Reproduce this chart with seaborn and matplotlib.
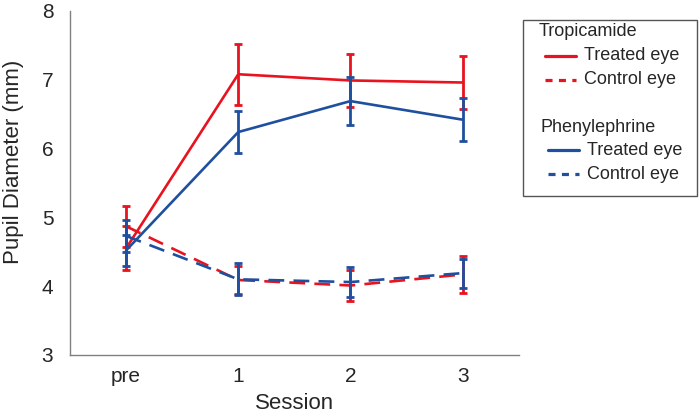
import numpy as np
import pandas as pd
import seaborn as sns
from matplotlib import pyplot as plt
from matplotlib.lines import Line2D
from matplotlib.patches import Rectangle

sessions = ['pre', '1', '2', '3']

# Tropicamide
trop_treated = [4.55, 7.08, 6.99, 6.96]
trop_treated_err = [0.32, 0.44, 0.39, 0.38]
trop_control = [4.87, 4.09, 4.01, 4.17]
trop_control_err = [0.30, 0.21, 0.23, 0.27]

# Phenylephrine
phen_treated = [4.52, 6.24, 6.69, 6.42]
phen_treated_err = [0.23, 0.31, 0.35, 0.31]
phen_control = [4.73, 4.10, 4.06, 4.19]
phen_control_err = [0.23, 0.23, 0.22, 0.21]

red = '#E8131F'
blue = '#1F4F9F'

sns.set_style('white')
plt.rcParams['font.family'] = ['Liberation Sans', 'DejaVu Sans']

fig = plt.figure(figsize=(7, 4.15), dpi=100)
ax = fig.add_axes([0.1, 0.1446, 0.641, 0.829])

series = [
	('Tropicamide', 'Treated eye', trop_treated, trop_treated_err, red, '-'),
	('Tropicamide', 'Control eye', trop_control, trop_control_err, red, '--'),
	('Phenylephrine', 'Treated eye', phen_treated, phen_treated_err, blue, '-'),
	('Phenylephrine', 'Control eye', phen_control, phen_control_err, blue, '--'),
]

xpos = np.arange(len(sessions))
for drug, eye, vals, errs, col, ls in series:
	df = pd.DataFrame({'x': xpos, 'y': vals})
	line_kw = dict(lw=1.9, color=col)
	if ls == '--':
		line_kw['dashes'] = (6.0, 3.5)
	sns.lineplot(data=df, x='x', y='y', ax=ax, legend=False, **line_kw)
	ax.errorbar(xpos, vals, yerr=errs, fmt='none', ecolor=col, elinewidth=2.0,
				capsize=2.9, capthick=2.0)

ax.set_xlim(-0.5, 3.5)
ax.set_ylim(3, 8)
ax.set_xticks(xpos)
ax.set_xticklabels(sessions)
ax.set_yticks([3, 4, 5, 6, 7, 8])
for s in ['top', 'right']:
	ax.spines[s].set_visible(False)
for s in ['left', 'bottom']:
	ax.spines[s].set_color('#808080')
	ax.spines[s].set_linewidth(1.0)
ax.tick_params(direction='in', length=4, width=1, color='#808080', labelsize=15)
ax.tick_params(axis='y', pad=12)
ax.tick_params(axis='x', pad=9)
ax.set_xlabel('Session', fontsize=16, labelpad=5)
ax.set_ylabel('Pupil Diameter (mm)', fontsize=16)
ax.yaxis.set_label_coords(-0.103, 0.56)

# legend box drawn in figure pixels
W, H = 700, 415
def fx(px):
	return px / W
def fy(py):
	return 1 - py / H

fig.patches.append(Rectangle((fx(523), fy(196)), fx(697) - fx(523), fy(20) - fy(196),
							 transform=fig.transFigure, fill=False, ec='#555555', lw=1.0))
entries = [
	(539, 32, 'Tropicamide', None, None),
	(545, 56, 'Treated eye', red, '-'),
	(545, 80, 'Control eye', red, '--'),
	(541, 127, 'Phenylephrine', None, None),
	(548, 150, 'Treated eye', blue, '-'),
	(548, 174, 'Control eye', blue, '--'),
]
for x0, y0, label, col, ls in entries:
	if col is None:
		fig.text(fx(x0), fy(y0), label, fontsize=13, va='center', ha='left')
		continue
	ln = Line2D([fx(x0), fx(x0 + 31)], [fy(y0), fy(y0)], transform=fig.transFigure,
				color=col, lw=2.3)
	if ls == '--':
		ln.set_dashes((2.2, 2.0))
	fig.lines.append(ln)
	fig.text(fx(x0 + 39), fy(y0), label, fontsize=13, va='center', ha='left')

plt.savefig('out.png', dpi=100)
